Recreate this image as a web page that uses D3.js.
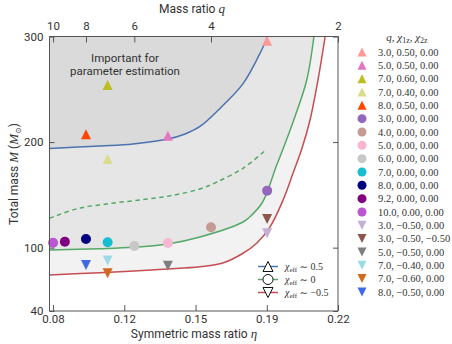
<!DOCTYPE html>
<html>
<head>
<meta charset="utf-8">
<script src="https://cdn.jsdelivr.net/npm/d3@7"></script>
<style>
  body { margin: 0; background: #fff; }
  svg { display: block; }
  .tick text { font-family: Roboto, "DejaVu Sans", sans-serif; font-size: 11.5px; fill: #333; }
</style>
</head>
<body>
<svg id="chart" width="452" height="344"></svg>
<script>
// ---------------- data ----------------
const qVals     = [3.0, 5.0, 7.0, 7.0, 8.0, 3.0, 4.0, 5.0, 6.0, 7.0, 8.0, 9.2, 10.0, 3.0, 3.0, 5.0, 7.0, 7.0, 8.0];
const chi1Vals  = [0.50, 0.50, 0.60, 0.40, 0.50, 0, 0, 0, 0, 0, 0, 0, 0, -0.50, -0.50, -0.50, -0.40, -0.60, -0.50];
const chi2Vals  = [0, 0, 0, 0, 0, 0, 0, 0, 0, 0, 0, 0, 0, 0, -0.50, 0, 0, 0, 0];
const massVals  = [296, 206, 254, 184, 207.4, 154, 119.3, 104.4, 101.6, 105.1, 108.2, 105.6, 104.7, 113.6, 127.1, 82.9, 87.8, 75.7, 83.6];
const pointColors = ["#ff9896", "#e377c2", "#bcbd22", "#dbdb8d", "#ff4500",
                     "#9467bd", "#c49c94", "#f7b6d2", "#c7c7c7", "#17becf", "#000080", "#800080", "#ba55d3",
                     "#c5b0d5", "#8c564b", "#7f7f7f", "#9edae5", "#d2691e", "#4169e1"];

// boundary curves (eta, total mass)
const blueEta  = [0.0809, 0.1056, 0.1218, 0.1389, 0.1473, 0.1546, 0.1652, 0.1758, 0.1848, 0.1877];
const blueM    = [193.9, 196.3, 198.2, 202.9, 207.7, 214.8, 233.5, 255.6, 287.2, 300];
const greenEta = [0.0809, 0.1056, 0.1218, 0.1389, 0.1546, 0.1757, 0.1791, 0.1850, 0.1878, 0.1913, 0.1954, 0.2011, 0.2069, 0.2104];
const greenM   = [97.8, 99.0, 100.3, 103.5, 110.1, 124.3, 129.3, 142.3, 154.0, 173.6, 194.1, 224.0, 258.8, 300];
const redEta   = [0.0809, 0.1056, 0.1389, 0.1546, 0.1654, 0.1757, 0.1825, 0.1889, 0.1953, 0.2002, 0.2046, 0.2085, 0.2124, 0.2159];
const redM     = [74.1, 76.3, 79.8, 82.0, 85.2, 94.7, 104.4, 119.6, 145.1, 170.7, 194.4, 220.9, 258.8, 300];
const dashEta  = [0.0809, 0.0949, 0.1115, 0.1277, 0.1409, 0.1546, 0.1629, 0.1757, 0.1864];
const dashM    = [127.8, 137.1, 142.0, 145.8, 149.4, 155.6, 162.2, 175.2, 191.8];

// axes
const etaLimits   = [0.0809, 0.2222];
const massLimits  = [40, 300];
const massTicks   = [300, 200, 100, 40];
const topQTicks   = [10, 8, 6, 4, 2];
const bottomTickLabels = ["0.08", "0.12", "0.15", "0.19", "0.22"];

// ---------------- layout ----------------
const svg = d3.select("#chart");
const L = 49.5, R = 338, T = 36.5, B = 311;
const x = d3.scaleLinear().domain(etaLimits).range([L, R]);
const y = d3.scaleLinear().domain(massLimits).range([B, T]);
const etaOfQ = q => q / ((1 + q) * (1 + q));

const C = { blue: "#4c72b0", green: "#55a868", red: "#c44e52" };

svg.append("defs").append("clipPath").attr("id", "clip")
  .append("rect").attr("x", L).attr("y", T).attr("width", R - L).attr("height", B - T);

const plot = svg.append("g").attr("clip-path", "url(#clip)");

const line = d3.line().x(d => x(d[0])).y(d => y(d[1])).curve(d3.curveCatmullRom.alpha(0.5));
const zip = (a, b) => a.map((v, i) => [v, b[i]]);
const bluePts = zip(blueEta, blueM), greenPts = zip(greenEta, greenM),
      redPts = zip(redEta, redM), dashPts = zip(dashEta, dashM);

function above(pts) {
  return line(pts) + `L${x(pts[pts.length - 1][0])},${T - 2}L${L - 2},${T - 2}L${L - 2},${y(pts[0][1])}Z`;
}
plot.append("path").attr("d", above(redPts)).attr("fill", "#f2f2f2");
plot.append("path").attr("d", above(greenPts)).attr("fill", "#e6e6e6");
plot.append("path").attr("d", above(bluePts)).attr("fill", "#dadada");

plot.append("path").attr("d", line(bluePts)).attr("fill", "none").attr("stroke", C.blue).attr("stroke-width", 1.5);
plot.append("path").attr("d", line(greenPts)).attr("fill", "none").attr("stroke", C.green).attr("stroke-width", 1.5);
plot.append("path").attr("d", line(redPts)).attr("fill", "none").attr("stroke", C.red).attr("stroke-width", 1.5);
plot.append("path").attr("d", line(dashPts)).attr("fill", "none").attr("stroke", C.green).attr("stroke-width", 1.5)
  .attr("stroke-dasharray", "4.5,3.5");

// annotation
const ann = svg.append("text").attr("text-anchor", "middle")
  .style("font-family", "Roboto, 'DejaVu Sans', sans-serif").style("font-size", "11.5px").attr("fill", "#333");
ann.append("tspan").attr("x", 125).attr("y", 62).text("Important for");
ann.append("tspan").attr("x", 125).attr("y", 75).text("parameter estimation");

// markers
const tri = (s, up) => up
  ? `M0,${-s / 2}L${s / 2},${s / 2}L${-s / 2},${s / 2}Z`
  : `M0,${s / 2}L${s / 2},${-s / 2}L${-s / 2},${-s / 2}Z`;
function marker(g, chi, size, color) {
  if (chi > 0) return g.append("path").attr("d", tri(size, true)).attr("fill", color);
  if (chi < 0) return g.append("path").attr("d", tri(size, false)).attr("fill", color);
  return g.append("circle").attr("r", size / 2).attr("fill", color);
}
qVals.forEach((q, i) => {
  const g = svg.append("g").attr("transform", `translate(${x(etaOfQ(q))},${y(massVals[i])})`);
  marker(g, chi1Vals[i], 10, pointColors[i]);
});

// frame
svg.append("rect").attr("x", L).attr("y", T).attr("width", R - L).attr("height", B - T)
  .attr("fill", "none").attr("stroke", "#555").attr("stroke-width", 1);

// axes
const etaMin = etaOfQ(10), etaMax = etaOfQ(2);
const bottomTicks = bottomTickLabels.map((_, i) => etaMin + (etaMax - etaMin) * i / (bottomTickLabels.length - 1));

function styleAxis(g) { g.select(".domain").remove(); g.selectAll(".tick line").attr("stroke", "#555"); }

svg.append("g").attr("transform", `translate(0,${B})`)
  .call(d3.axisBottom(x).tickValues(bottomTicks).tickFormat((d, i) => bottomTickLabels[i]).tickSize(-6).tickPadding(4))
  .call(styleAxis);
svg.append("g").attr("transform", `translate(0,${T})`)
  .call(d3.axisTop(x).tickValues(topQTicks.map(etaOfQ)).tickFormat((d, i) => String(topQTicks[i])).tickSize(-6).tickPadding(7))
  .call(styleAxis);
svg.append("g").attr("transform", `translate(${L},0)`)
  .call(d3.axisLeft(y).tickValues(massTicks).tickFormat(d3.format("d")).tickSize(-5).tickPadding(6))
  .call(styleAxis);
svg.append("g").attr("transform", `translate(${R},0)`)
  .call(d3.axisRight(y).tickValues(massTicks).tickFormat("").tickSize(-5))
  .call(styleAxis);

// axis labels
const sans = "Roboto, 'DejaVu Sans', sans-serif";
const serif = "'Liberation Serif', 'DejaVu Serif', serif";
const xl = svg.append("text").attr("x", 194).attr("y", 338).attr("text-anchor", "middle")
  .style("font-family", sans).style("font-size", "12px").attr("fill", "#333");
xl.append("tspan").text("Symmetric mass ratio ");
xl.append("tspan").style("font-family", serif).style("font-style", "italic").style("font-size", "13px").text("η");

const tl = svg.append("text").attr("x", 192).attr("y", 13).attr("text-anchor", "middle")
  .style("font-family", sans).style("font-size", "12px").attr("fill", "#333");
tl.append("tspan").text("Mass ratio ");
tl.append("tspan").style("font-family", serif).style("font-style", "italic").style("font-size", "13px").text("q");

const yl = svg.append("text").attr("transform", "translate(18,174) rotate(-90)").attr("text-anchor", "middle")
  .style("font-family", sans).style("font-size", "12px").attr("fill", "#333");
yl.append("tspan").text("Total mass ");
yl.append("tspan").style("font-family", serif).style("font-style", "italic").style("font-size", "13px").text("M");
yl.append("tspan").text(" (");
yl.append("tspan").style("font-family", serif).style("font-style", "italic").style("font-size", "13px").text("M");
yl.append("tspan").attr("dy", 3).style("font-size", "8px").text("⊙");
yl.append("tspan").attr("dy", -3).text(")");

// right legend
const leg = svg.append("g");
const title = leg.append("text").attr("x", 407).attr("y", 41).attr("text-anchor", "middle")
  .style("font-family", serif).style("font-size", "11px").attr("fill", "#333");
title.append("tspan").style("font-style", "italic").text("q");
title.append("tspan").text(", ");
title.append("tspan").style("font-style", "italic").text("χ");
title.append("tspan").attr("dy", 2).style("font-size", "8px").text("1z");
title.append("tspan").attr("dy", -2).text(", ");
title.append("tspan").style("font-style", "italic").text("χ");
title.append("tspan").attr("dy", 2).style("font-size", "8px").text("2z");

const fmt2 = v => (v < 0 ? "−" : "") + Math.abs(v).toFixed(2);
qVals.forEach((q, i) => {
  const yy = 52 + i * 13.33;
  const g = leg.append("g").attr("transform", `translate(362,${yy})`);
  marker(g, chi1Vals[i], 9, pointColors[i]);
  leg.append("text").attr("x", 378).attr("y", yy + 3.6)
    .style("font-family", serif).style("font-size", "10.5px").attr("fill", "#333")
    .text(`${q.toFixed(1)}, ${fmt2(chi1Vals[i])}, ${fmt2(chi2Vals[i])}`);
});

// lower legend (chi_eff)
const effRows = [{ c: C.blue, chi: 1, lab: "0.5" }, { c: C.green, chi: 0, lab: "0" }, { c: C.red, chi: -1, lab: "−0.5" }];
effRows.forEach((r, i) => {
  const yy = 266.5 + i * 13;
  leg.append("line").attr("x1", 258).attr("x2", 278).attr("y1", yy).attr("y2", yy).attr("stroke", r.c).attr("stroke-width", 1.5);
  const g = leg.append("g").attr("transform", `translate(268,${yy})`);
  marker(g, r.chi, 10, "#fff").attr("stroke", "#111").attr("stroke-width", 1);
  const t = leg.append("text").attr("x", 285).attr("y", yy + 3.5)
    .style("font-family", serif).style("font-size", "10px").attr("fill", "#333");
  t.append("tspan").style("font-style", "italic").text("χ");
  t.append("tspan").attr("dy", 2).style("font-size", "7px").text("eff");
  t.append("tspan").attr("dy", -2).text(" ∼ " + r.lab);
});
</script>
</body>
</html>
